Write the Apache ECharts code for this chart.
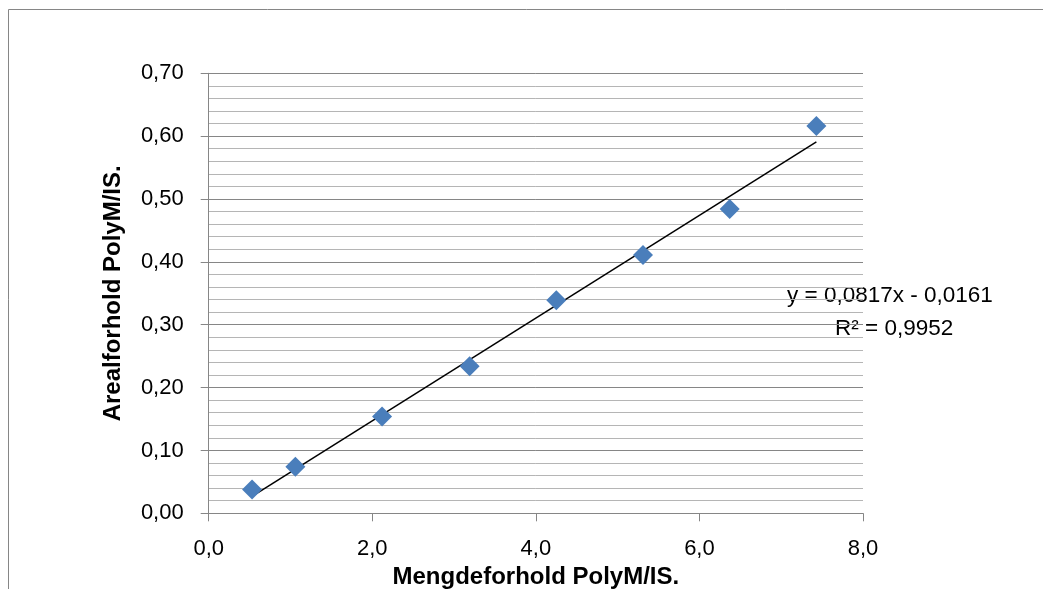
<!DOCTYPE html>
<html>
<head>
<meta charset="utf-8">
<script src="https://cdn.jsdelivr.net/npm/echarts@6/dist/echarts.min.js"></script>
<style>html,body{margin:0;padding:0;background:#fff}#c{width:1043px;height:589px}</style>
</head>
<body>
<div id="c"></div>
<script>
// Data
const xValues = [0.53, 1.06, 2.12, 3.19, 4.25, 5.31, 6.37, 7.43];
const yValues = [0.038, 0.074, 0.154, 0.234, 0.339, 0.411, 0.484, 0.616];
const trendX = [0.53, 7.43];
const trendY = [0.027, 0.591];
const equationText = 'y = 0,0817x - 0,0161';
const r2Text = 'R² = 0,9952';
const xTitle = 'Mengdeforhold PolyM/IS.';
const yTitle = 'Arealforhold PolyM/IS.';

const FONT = '"Liberation Sans", Arial, sans-serif';
const chart = echarts.init(document.getElementById('c'), null, {renderer: 'canvas'});
const fmt = (v, d) => v.toFixed(d).replace('.', ',');

chart.setOption({
  animation: false,
  backgroundColor: '#fff',
  grid: {left: 208.7, top: 73.3, right: 180, bottom: 75.7, containLabel: false, outerBoundsMode: 'none'},
  xAxis: {
    type: 'value', min: 0, max: 8, interval: 2,
    axisLine: {show: true, lineStyle: {color: '#868686', width: 1}},
    axisTick: {show: true, length: 8, inside: false, lineStyle: {color: '#868686'}},
    axisLabel: {formatter: v => fmt(v, 1), color: '#000', fontFamily: FONT, fontSize: 22, margin: 25},
    splitLine: {show: false},
    name: xTitle, nameLocation: 'middle', nameGap: 51,
    nameTextStyle: {fontFamily: FONT, fontSize: 24, fontWeight: 'bold', color: '#000'}
  },
  yAxis: {
    type: 'value', min: 0, max: 0.7, interval: 0.1,
    axisLine: {show: true, lineStyle: {color: '#868686', width: 1}},
    axisTick: {show: true, length: 8, lineStyle: {color: '#868686'}},
    axisLabel: {formatter: v => fmt(v, 2), color: '#000', fontFamily: FONT, fontSize: 22, margin: 25},
    splitLine: {show: true, lineStyle: {color: '#868686', width: 1}},
    minorTick: {show: false, splitNumber: 5},
    minorSplitLine: {show: true, lineStyle: {color: '#b5b5b5', width: 1}},
    name: yTitle, nameLocation: 'middle', nameGap: 83, nameRotate: 90,
    nameTextStyle: {fontFamily: FONT, fontSize: 24, fontWeight: 'bold', color: '#000'}
  },
  series: [
    {
      type: 'line', data: trendX.map((x, i) => [x, trendY[i]]),
      showSymbol: false, symbol: 'none',
      lineStyle: {color: '#000', width: 1.5}, z: 3
    },
    {
      type: 'scatter', data: xValues.map((x, i) => [x, yValues[i]]),
      symbol: 'diamond', symbolSize: [20, 20],
      itemStyle: {color: '#4a7ebb', opacity: 1}, z: 4
    }
  ],
  graphic: [
    {type: 'rect', shape: {x: 8.5, y: 9.5, width: 1200, height: 800}, style: {fill: 'none', stroke: '#868686', lineWidth: 1}, silent: true},
    {type: 'text', left: 787, top: 284, style: {text: equationText, font: '22.5px ' + FONT, fill: '#000'}},
    {type: 'text', left: 835, top: 317, style: {text: r2Text, font: '22.5px ' + FONT, fill: '#000'}}
  ]
});
</script>
</body>
</html>
